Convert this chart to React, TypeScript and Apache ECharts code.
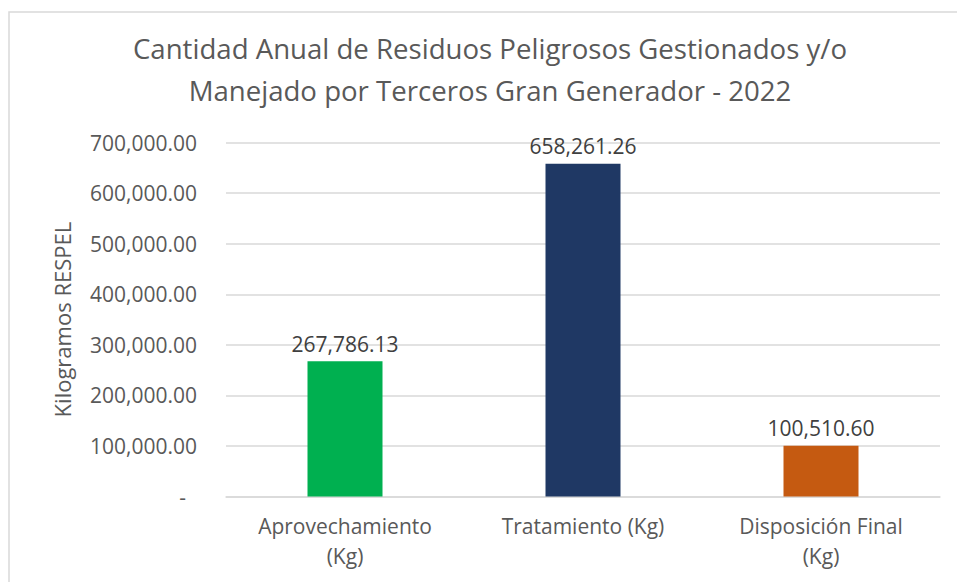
import React, { useEffect, useRef } from "react";
import * as echarts from "echarts";

const categories = ["Aprovechamiento\n(Kg)", "Tratamiento (Kg)", "Disposición Final\n(Kg)"];
const values = [267786.13, 658261.26, 100510.6];
const barColors = ["#00B050", "#1F3864", "#C55A11"];
const titleText = "Cantidad Anual de Residuos Peligrosos Gestionados y/o\nManejado por Terceros Gran Generador - 2022";
const yAxisName = "Kilogramos RESPEL";

const FONT = "Open Sans";

const fmt = (v: number) =>
  v.toLocaleString("en-US", { minimumFractionDigits: 2, maximumFractionDigits: 2 });

export default function App() {
  const ref = useRef<HTMLDivElement>(null);
  useEffect(() => {
    if (!ref.current) return;
    const chart = echarts.init(ref.current, undefined, { renderer: "svg" });
    chart.setOption({
      animation: false,
      backgroundColor: "#ffffff",
      textStyle: { fontFamily: FONT },
      title: {
        text: titleText,
        left: 485,
        textAlign: "center",
        top: 22,
        textStyle: {
          fontFamily: FONT,
          fontSize: 27.6,
          fontWeight: "normal",
          color: "#595959",
          lineHeight: 42,
        },
      },
      graphic: [
        {
          type: "rect",
          shape: { x: 9, y: 12, width: 1000, height: 1000 },
          style: { fill: "none", stroke: "#D9D9D9", lineWidth: 1.5 },
          silent: true,
        },
      ],
      grid: { left: 226, right: 17, top: 142.7, bottom: 85.5, containLabel: false },
      xAxis: {
        type: "category",
        data: categories,
        axisLine: { lineStyle: { color: "#D9D9D9", width: 1.5 } },
        axisTick: { show: false },
        axisLabel: {
          fontFamily: FONT,
          fontSize: 21,
          color: "#595959",
          lineHeight: 30,
          margin: 14,
          interval: 0,
        },
      },
      yAxis: {
        type: "value",
        min: 0,
        max: 700000,
        interval: 100000,
        name: yAxisName,
        nameLocation: "middle",
        nameRotate: 90,
        nameGap: 153,
        nameTextStyle: { fontFamily: FONT, fontSize: 22, color: "#595959" },
        axisLine: { show: false },
        axisTick: { show: false },
        splitLine: { lineStyle: { color: "#D9D9D9", width: 1.5 } },
        axisLabel: {
          fontFamily: FONT,
          fontSize: 21,
          color: "#595959",
          margin: 29,
          formatter: (v: number) => (v === 0 ? "-  " : fmt(v)),
        },
      },
      series: [
        {
          type: "bar",
          barWidth: 75,
          data: values.map((v, i) => ({ value: v, itemStyle: { color: barColors[i] } })),
          label: {
            show: true,
            position: "top",
            distance: 7,
            fontFamily: FONT,
            fontSize: 21,
            color: "#404040",
            formatter: (p: any) => fmt(p.value),
          },
        },
      ],
    });
    return () => chart.dispose();
  }, []);
  return (
    <div
      ref={ref}
      style={{ position: "fixed", left: 0, top: 0, width: 957, height: 582 }}
    />
  );
}
